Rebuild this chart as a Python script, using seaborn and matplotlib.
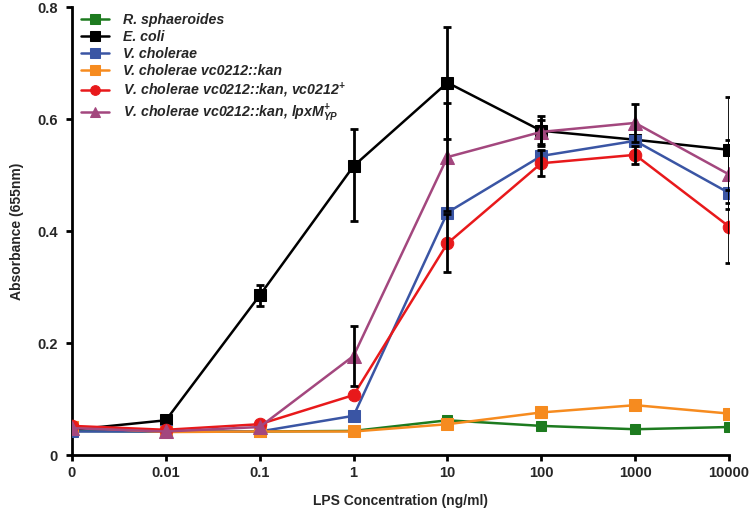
import numpy as np
import pandas as pd
import matplotlib
matplotlib.use("Agg")
import matplotlib.pyplot as plt
import seaborn as sns

sns.set_style("white")
plt.rcParams['font.family'] = ['Liberation Sans', 'DejaVu Sans']
plt.rcParams['font.weight'] = 'bold'
plt.rcParams['mathtext.fontset'] = 'custom'
plt.rcParams['mathtext.rm'] = 'Liberation Sans:bold:italic'
plt.rcParams['mathtext.it'] = 'Liberation Sans:bold:italic'
plt.rcParams['mathtext.bf'] = 'Liberation Sans:bold:italic'

# ---- data ----
conc_labels = ["0", "0.01", "0.1", "1", "10", "100", "1000", "10000"]
series_names = [
    "R. sphaeroides",
    "E. coli",
    "V. cholerae",
    "V. cholerae vc0212::kan",
    "V. cholerae vc0212::kan, vc0212$^{+}$",
    "V. cholerae vc0212::kan, lpxM$_{YP}^{+}$",
]
r_sphaeroides = [0.043, 0.042, 0.042, 0.043, 0.062, 0.052, 0.046, 0.050]
e_coli        = [0.045, 0.062, 0.285, 0.516, 0.665, 0.579, 0.563, 0.545]
v_cholerae    = [0.042, 0.042, 0.042, 0.070, 0.433, 0.534, 0.561, 0.468]
v_kan         = [0.050, 0.041, 0.042, 0.042, 0.055, 0.076, 0.089, 0.074]
v_kan_vc0212  = [0.052, 0.045, 0.055, 0.107, 0.378, 0.521, 0.536, 0.408]
v_kan_lpxm    = [0.048, 0.042, 0.050, 0.177, 0.532, 0.577, 0.593, 0.501]

# error bars: lower / upper extents (NaN = none visible)
nan = np.nan
none8 = [nan] * 8
err_e_coli_lo = [nan, nan, 0.019, 0.098, 0.100, 0.027, nan, 0.095]
err_e_coli_hi = [nan, nan, 0.019, 0.066, 0.100, 0.027, nan, 0.095]
err_vc0212    = [nan, nan, nan, nan, 0.052, 0.023, 0.016, 0.065]
err_lpxm      = [nan, nan, nan, 0.053, 0.096, 0.022, 0.034, 0.062]

values = [r_sphaeroides, e_coli, v_cholerae, v_kan, v_kan_vc0212, v_kan_lpxm]
errors_lo = [none8, err_e_coli_lo, none8, none8, err_vc0212, err_lpxm]
errors_hi = [none8, err_e_coli_hi, none8, none8, err_vc0212, err_lpxm]
colors = ["#1d7b1f", "#000000", "#3a55a4", "#f68b1f", "#e8191b", "#a3477e"]
markers = ["s", "s", "s", "s", "o", "^"]
msizes = [7.5, 8.5, 9.0, 9.0, 9.0, 9.5]

x_pos = np.arange(len(conc_labels))

fig = plt.figure(figsize=(7.5, 5.19), dpi=100)
ax = fig.add_axes([0.096, 0.1233, 0.876, 0.8632])

for name, vals, col, mk, ms in zip(series_names, values, colors, markers, msizes):
    df = pd.DataFrame({"x": x_pos, "y": vals})
    sns.lineplot(data=df, x="x", y="y", ax=ax, color=col, marker=mk,
                 markersize=ms, markeredgecolor=col, linewidth=1.8,
                 label=name, zorder=3)

for vals, lo, hi in zip(values, errors_lo, errors_hi):
    lo = np.array(lo, dtype=float)
    hi = np.array(hi, dtype=float)
    m = ~np.isnan(lo)
    if m.any():
        ax.errorbar(x_pos[m], np.array(vals)[m], yerr=[lo[m], hi[m]], fmt="none",
                    ecolor="black", elinewidth=2, capsize=3, capthick=2, zorder=4)

ax.set_xlim(0, 7)
ax.set_ylim(0, 0.8)
ax.set_xticks(x_pos)
ax.set_xticklabels(conc_labels)
ax.set_yticks([0, 0.2, 0.4, 0.6, 0.8])
ax.set_yticklabels(["0", "0.2", "0.4", "0.6", "0.8"])
ax.tick_params(axis="both", labelsize=10.5, width=2, length=4, direction="out",
               color="black", bottom=True, left=True)
ax.tick_params(axis="x", pad=4)
ax.tick_params(axis="y", pad=6)
for lab in ax.get_xticklabels() + ax.get_yticklabels():
    lab.set_fontweight("bold")

for s in ["top", "right"]:
    ax.spines[s].set_visible(False)
for s in ["left", "bottom"]:
    ax.spines[s].set_linewidth(2)
    ax.spines[s].set_color("black")

ax.set_xlabel("LPS Concentration (ng/ml)", fontsize=10, fontweight="bold", labelpad=10)
ax.set_ylabel("Absorbance (655nm)", fontsize=10, fontweight="bold", labelpad=10)

leg = ax.legend(loc="upper left", bbox_to_anchor=(0.0, 1.005), frameon=False,
                prop={"family": "Liberation Sans", "weight": "bold", "style": "italic", "size": 10.2},
                handlelength=2.0, labelspacing=0.2, handletextpad=1.0, borderaxespad=0.2)
for h in leg.legend_handles:
    h.set_markersize(7)

fig.savefig("out.png", dpi=100)
